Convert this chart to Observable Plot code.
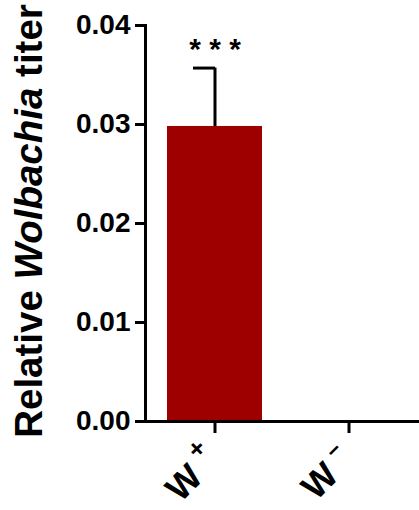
<!DOCTYPE html>
<html><head><meta charset="utf-8">
<script src="https://cdn.jsdelivr.net/npm/d3@7"></script>
<script src="https://cdn.jsdelivr.net/npm/@observablehq/plot@0.6"></script>
<style>body{margin:0;background:#fff} svg{display:block}</style>
</head><body><div id="chart"></div>
<script>
const categories = ["W+", "W-"];
const tickLabels = ["W", "W"];
const superscripts = ["+", "\u2212"];
const means = [0.0298, 0];
const errorsUp = [0.0059, 0];
const yTicks = [0, 0.01, 0.02, 0.03, 0.04];
const significance = ["* * *", ""];

const data = categories.map((c, i) => ({cat: c, label: tickLabels[i], sup: superscripts[i], mean: means[i], hi: means[i] + errorsUp[i], sig: significance[i]}));
const barData = data.filter(d => d.mean > 0);

// superscript styling per sign (gap = width of a space at that font size)
const supStyle = {"+": {size: 26, gap: 30, dy: -18.5}, "\u2212": {size: 22, gap: 30, dy: -16.5}};

const plot = Plot.plot({
  width: 419, height: 510,
  marginTop: 25, marginBottom: 89, marginLeft: 145, marginRight: 0,
  style: {fontFamily: "'Liberation Sans', Arial, sans-serif", background: "#fff", color: "#000", overflow: "visible"},
  x: {domain: categories, paddingInner: 0.29, paddingOuter: 0.16, align: 0.5},
  y: {domain: [0, 0.04]},
  marks: [
    Plot.barY(barData, {x: "cat", y: "mean", fill: "#9e0000"}),
    Plot.ruleX(barData, {x: "cat", y1: "mean", y2: "hi", strokeWidth: 3, stroke: "#000"}),
    Plot.tickY(barData, {x: "cat", y: "hi", strokeWidth: 3, stroke: "#000", insetLeft: 26, insetRight: 47}),
    Plot.text(barData, {x: "cat", y: "hi", text: "sig", dy: -19, fontSize: 30, fontWeight: "bold", fill: "#000"}),
    Plot.frame({anchor: "left", strokeWidth: 3, stroke: "#000"}),
    Plot.ruleY([0], {strokeWidth: 3, stroke: "#000", insetLeft: -10}),
    Plot.axisY({ticks: yTicks, tickFormat: d3.format(".2f"), tickSize: 10, tickPadding: 5, strokeWidth: 3, fontSize: 28, fontWeight: "bold", label: null}),
    Plot.axisX({tickSize: 12, strokeWidth: 3, tickFormat: () => "", label: null}),
    Plot.text(data, {x: "cat", frameAnchor: "bottom", text: "label", rotate: -45, textAnchor: "end", lineAnchor: "bottom", dx: 6.2, dy: 41, fontSize: 36, fontWeight: "bold", fill: "#000", className: "xlabels"})
  ]
});

const svg = d3.select(plot);
svg.selectAll("g.xlabels text").each(function(d, i) {
  const s = superscripts[i];
  const st = supStyle[s];
  const t = d3.select(this);
  t.append("tspan").attr("font-size", st.gap + "px").text("\u00a0");
  t.append("tspan").attr("dy", st.dy).attr("font-size", st.size + "px").text(s);
});
const lab = svg.append("text")
  .attr("transform", "translate(42,221) rotate(-90)")
  .attr("text-anchor", "middle")
  .attr("font-size", 38.5)
  .attr("font-weight", "bold")
  .attr("fill", "#000");
lab.append("tspan").text("Relative ");
lab.append("tspan").attr("font-style", "italic").text("Wolbachia");
lab.append("tspan").text(" titer");

document.getElementById("chart").append(plot);
</script>
</body></html>
